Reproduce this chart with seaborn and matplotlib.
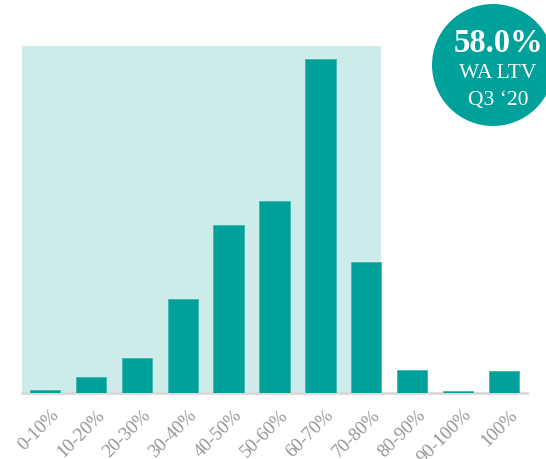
import matplotlib
matplotlib.use("Agg")
import matplotlib.pyplot as plt
import seaborn as sns
import pandas as pd
from matplotlib.patches import Circle, Rectangle
from matplotlib.transforms import ScaledTranslation

categories = ["0-10%", "10-20%", "20-30%", "30-40%", "40-50%", "50-60%",
              "60-70%", "70-80%", "80-90%", "90-100%", "100%"]
shares = [0.3, 1.6, 3.4, 9.2, 16.5, 18.8, 32.7, 12.8, 2.3, 0.2, 2.2]
badge_lines = ["58.0%", "WA LTV", "Q3 \u201820"]

sns.set_theme(style="white")
plt.rcParams['font.family'] = ['Liberation Serif', 'DejaVu Serif']

df = pd.DataFrame({"bucket": categories, "share": shares})

fig = plt.figure(figsize=(5.46, 4.6), dpi=100)
ax = fig.add_axes([22/546, 66/460, 505/546, 347/460])

sns.barplot(data=df, x="bucket", y="share", ax=ax, color="#00A19A",
            saturation=1, width=0.66, edgecolor="#3DB5AF", linewidth=0.6, zorder=3)

ax.set_xlim(-0.5, len(categories) - 0.5)
ax.set_ylim(0, 34)
# shaded highlight region spanning 0-10% through 70-80%
ax.add_patch(Rectangle((-0.5, 0), 7.83, 34, facecolor="#CCEBE9",
                       edgecolor="none", zorder=1))

for s in ["top", "right", "left"]:
    ax.spines[s].set_visible(False)
ax.spines["bottom"].set_color("#D9D9D9")
ax.spines["bottom"].set_linewidth(2)
ax.set_yticks([])
ax.set_xlabel("")
ax.set_ylabel("")
ax.tick_params(axis="x", length=0, pad=9, colors="#959595", labelsize=13.5)
offset = ScaledTranslation(5/100, 0, fig.dpi_scale_trans)
for lab in ax.get_xticklabels():
    lab.set_rotation(45)
    lab.set_ha("right")
    lab.set_va("top")
    lab.set_rotation_mode("anchor")
    lab.set_transform(lab.get_transform() + offset)

# badge
circ = Circle((4.93, 3.94), 0.61, transform=fig.dpi_scale_trans,
              facecolor="#00A19A", edgecolor="none", zorder=10)
fig.add_artist(circ)
fig.text(498/546, 1 - 44/460, badge_lines[0], color="white", fontsize=23.5,
         fontweight="bold", ha="center", va="center", zorder=11)
fig.text(498/546, 1 - 74/460, badge_lines[1], color="white", fontsize=15.5,
         ha="center", va="center", zorder=11)
fig.text(498/546, 1 - 101/460, badge_lines[2], color="white", fontsize=15.5,
         ha="center", va="center", zorder=11)

fig.savefig("out.png", dpi=100)
